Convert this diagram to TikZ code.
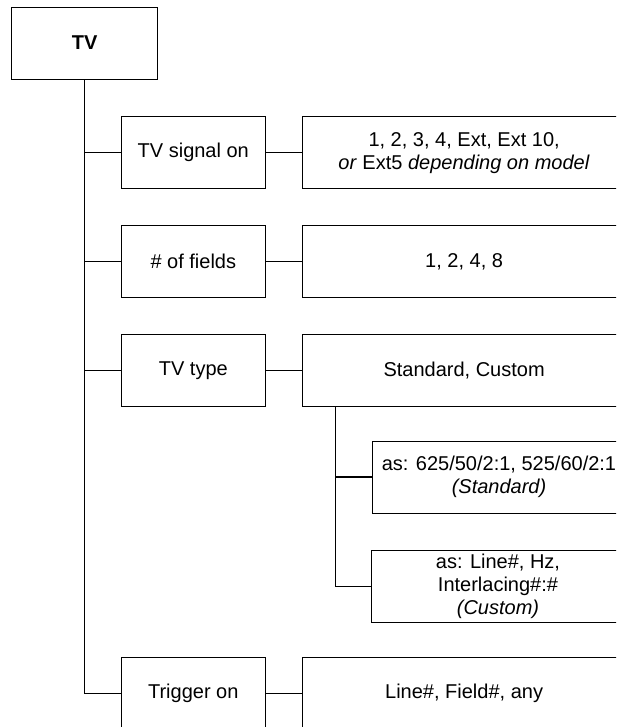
\documentclass[tikz,border=0pt]{standalone}
\usepackage{fontspec}
\setmainfont{Liberation Sans}
\usetikzlibrary{positioning}

\begin{document}
\begin{tikzpicture}[x=1pt, y=-1pt,
    box/.style={rectangle, draw=black, line width=0.8pt, minimum height=72pt,
                inner sep=0pt, align=center, font=\fontsize{20}{23}\selectfont},
    item/.style={box, minimum width=144pt},
    value/.style={box, minimum width=324pt},
    subvalue/.style={box, minimum width=254pt},
    link/.style={line width=1.3pt, black}
]
\useasboundingbox (0,0) rectangle (616,727);
\clip (0,0) rectangle (616,727);

\node (tv) [box, minimum width=146pt, font=\fontsize{20}{23}\selectfont\bfseries] at (84.7,43) {TV};
\node (sig) [item] at (193.3,152.7) {TV signal on};
\node (sigv) [value, right=36pt of sig] {1, 2, 3, 4, Ext, Ext 10,\\
    \textit{or} Ext5 \textit{depending on model}};
\node (fld) [item, below=36pt of sig] {\# of fields};
\node (fldv) [value, right=36pt of fld] {1, 2, 4, 8};
\node (typ) [item, below=36pt of fld] {TV type};
\node (typv) [value, right=36pt of typ] {Standard, Custom};
\node (std) [subvalue] at (499,477) {as: 625/50/2:1, 525/60/2:1\\ \textit{(Standard)}};
\node (cus) [subvalue] at (498,586.5) {as: Line\#, Hz,\\ Interlacing\#:\#\\ \textit{(Custom)}};
\node (trg) [item] at (193.3,693.7) {Trigger on};
\node (trgv) [value, right=36pt of trg] {Line\#, Field\#, any};

\coordinate (tap) at ([xshift=34pt]typv.south west);
\draw [link] (tv.south) |- (trg.west);
\draw [link] (tv.south |- sig.west) -- (sig.west);
\draw [link] (tv.south |- fld.west) -- (fld.west);
\draw [link] (tv.south |- typ.west) -- (typ.west);
\draw [link] (sig) -- (sigv);
\draw [link] (fld) -- (fldv);
\draw [link] (typ) -- (typv);
\draw [link] (trg) -- (trgv);
\draw [link] (tap) |- (cus.west);
\draw [link] (tap |- std.west) -- (std.west);
\end{tikzpicture}
\end{document}
